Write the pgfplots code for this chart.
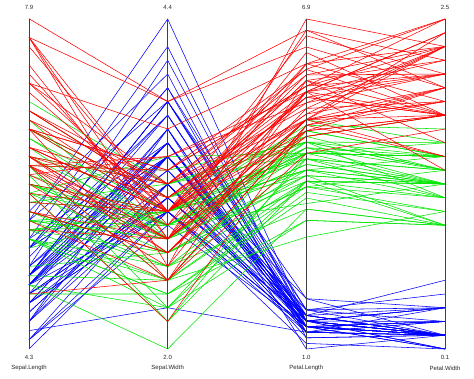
\documentclass[border=0pt]{standalone}
\usepackage{fontspec}
\setmainfont{Liberation Sans}
\usepackage{pgfplots}
\usepackage{pgfplotstable}
\pgfplotsset{compat=1.18}
\definecolor{irisR}{RGB}{255,0,0}
\definecolor{irisG}{RGB}{0,230,0}
\definecolor{irisB}{RGB}{0,0,255}
\tikzset{
  sp0/.style={draw=irisB, line width=0.55pt},
  sp1/.style={draw=irisG, line width=0.55pt},
  sp2/.style={draw=irisR, line width=0.55pt},
  lab/.style={font=\fontsize{6}{7}\selectfont, text=black!85, inner sep=0pt},
}
\pgfplotstableread{
sl sw pl pw sp
5.1 3.5 1.4 0.2 0
4.9 3.0 1.4 0.2 0
4.7 3.2 1.3 0.2 0
4.6 3.1 1.5 0.2 0
5.0 3.6 1.4 0.2 0
5.4 3.9 1.7 0.4 0
4.6 3.4 1.4 0.3 0
5.0 3.4 1.5 0.2 0
4.4 2.9 1.4 0.2 0
4.9 3.1 1.5 0.1 0
5.4 3.7 1.5 0.2 0
4.8 3.4 1.6 0.2 0
4.8 3.0 1.4 0.1 0
4.3 3.0 1.1 0.1 0
5.8 4.0 1.2 0.2 0
5.7 4.4 1.5 0.4 0
5.4 3.9 1.3 0.4 0
5.1 3.5 1.4 0.3 0
5.7 3.8 1.7 0.3 0
5.1 3.8 1.5 0.3 0
5.4 3.4 1.7 0.2 0
5.1 3.7 1.5 0.4 0
4.6 3.6 1.0 0.2 0
5.1 3.3 1.7 0.5 0
4.8 3.4 1.9 0.2 0
5.0 3.0 1.6 0.2 0
5.0 3.4 1.6 0.4 0
5.2 3.5 1.5 0.2 0
5.2 3.4 1.4 0.2 0
4.7 3.2 1.6 0.2 0
4.8 3.1 1.6 0.2 0
5.4 3.4 1.5 0.4 0
5.2 4.1 1.5 0.1 0
5.5 4.2 1.4 0.2 0
4.9 3.1 1.5 0.2 0
5.0 3.2 1.2 0.2 0
5.5 3.5 1.3 0.2 0
4.9 3.6 1.4 0.1 0
4.4 3.0 1.3 0.2 0
5.1 3.4 1.5 0.2 0
5.0 3.5 1.3 0.3 0
4.5 2.3 1.3 0.3 0
4.4 3.2 1.3 0.2 0
5.0 3.5 1.6 0.6 0
5.1 3.8 1.9 0.4 0
4.8 3.0 1.4 0.3 0
5.1 3.8 1.6 0.2 0
4.6 3.2 1.4 0.2 0
5.3 3.7 1.5 0.2 0
5.0 3.3 1.4 0.2 0
7.0 3.2 4.7 1.4 1
6.4 3.2 4.5 1.5 1
6.9 3.1 4.9 1.5 1
5.5 2.3 4.0 1.3 1
6.5 2.8 4.6 1.5 1
5.7 2.8 4.5 1.3 1
6.3 3.3 4.7 1.6 1
4.9 2.4 3.3 1.0 1
6.6 2.9 4.6 1.3 1
5.2 2.7 3.9 1.4 1
5.0 2.0 3.5 1.0 1
5.9 3.0 4.2 1.5 1
6.0 2.2 4.0 1.0 1
6.1 2.9 4.7 1.4 1
5.6 2.9 3.6 1.3 1
6.7 3.1 4.4 1.4 1
5.6 3.0 4.5 1.5 1
5.8 2.7 4.1 1.0 1
6.2 2.2 4.5 1.5 1
5.6 2.5 3.9 1.1 1
5.9 3.2 4.8 1.8 1
6.1 2.8 4.0 1.3 1
6.3 2.5 4.9 1.5 1
6.1 2.8 4.7 1.2 1
6.4 2.9 4.3 1.3 1
6.6 3.0 4.4 1.4 1
6.8 2.8 4.8 1.4 1
6.7 3.0 5.0 1.7 1
6.0 2.9 4.5 1.5 1
5.7 2.6 3.5 1.0 1
5.5 2.4 3.8 1.1 1
5.5 2.4 3.7 1.0 1
5.8 2.7 3.9 1.2 1
6.0 2.7 5.1 1.6 1
5.4 3.0 4.5 1.5 1
6.0 3.4 4.5 1.6 1
6.7 3.1 4.7 1.5 1
6.3 2.3 4.4 1.3 1
5.6 3.0 4.1 1.3 1
5.5 2.5 4.0 1.3 1
5.5 2.6 4.4 1.2 1
6.1 3.0 4.6 1.4 1
5.8 2.6 4.0 1.2 1
5.0 2.3 3.3 1.0 1
5.6 2.7 4.2 1.3 1
5.7 3.0 4.2 1.2 1
5.7 2.9 4.2 1.3 1
6.2 2.9 4.3 1.3 1
5.1 2.5 3.0 1.1 1
5.7 2.8 4.1 1.3 1
6.3 3.3 6.0 2.5 2
5.8 2.7 5.1 1.9 2
7.1 3.0 5.9 2.1 2
6.3 2.9 5.6 1.8 2
6.5 3.0 5.8 2.2 2
7.6 3.0 6.6 2.1 2
4.9 2.5 4.5 1.7 2
7.3 2.9 6.3 1.8 2
6.7 2.5 5.8 1.8 2
7.2 3.6 6.1 2.5 2
6.5 3.2 5.1 2.0 2
6.4 2.7 5.3 1.9 2
6.8 3.0 5.5 2.1 2
5.7 2.5 5.0 2.0 2
5.8 2.8 5.1 2.4 2
6.4 3.2 5.3 2.3 2
6.5 3.0 5.5 1.8 2
7.7 3.8 6.7 2.2 2
7.7 2.6 6.9 2.3 2
6.0 2.2 5.0 1.5 2
6.9 3.2 5.7 2.3 2
5.6 2.8 4.9 2.0 2
7.7 2.8 6.7 2.0 2
6.3 2.7 4.9 1.8 2
6.7 3.3 5.7 2.1 2
7.2 3.2 6.0 1.8 2
6.2 2.8 4.8 1.8 2
6.1 3.0 4.9 1.8 2
6.4 2.8 5.6 2.1 2
7.2 3.0 5.8 1.6 2
7.4 2.8 6.1 1.9 2
7.9 3.8 6.4 2.0 2
6.4 2.8 5.6 2.2 2
6.3 2.8 5.1 1.5 2
6.1 2.6 5.6 1.4 2
7.7 3.0 6.1 2.3 2
6.3 3.4 5.6 2.4 2
6.4 3.1 5.5 1.8 2
6.0 3.0 4.8 1.8 2
6.9 3.1 5.4 2.1 2
6.7 3.1 5.6 2.4 2
6.9 3.1 5.1 2.3 2
5.8 2.7 5.1 1.9 2
6.8 3.2 5.9 2.3 2
6.7 3.3 5.7 2.5 2
6.7 3.0 5.2 2.3 2
6.3 2.5 5.0 1.9 2
6.5 3.0 5.2 2.0 2
6.2 3.4 5.4 2.3 2
5.9 3.0 5.1 1.8 2
}\iris
\begin{document}
\begin{tikzpicture}
\begin{axis}[
  scale only axis, width=416pt, height=330pt,
  xmin=0, xmax=3, ymin=0, ymax=1,
  hide axis, clip=false,
]
\pgfplotsforeachungrouped \i in {0,...,149}{%
  \pgfplotstablegetelem{\i}{sl}\of\iris
  \pgfmathsetmacro\ya{(\pgfplotsretval-4.3)/3.6}%
  \pgfplotstablegetelem{\i}{sw}\of\iris
  \pgfmathsetmacro\yb{(\pgfplotsretval-2.0)/2.4}%
  \pgfplotstablegetelem{\i}{pl}\of\iris
  \pgfmathsetmacro\yc{(\pgfplotsretval-1.0)/5.9}%
  \pgfplotstablegetelem{\i}{pw}\of\iris
  \pgfmathsetmacro\yd{(\pgfplotsretval-0.1)/2.4}%
  \pgfplotstablegetelem{\i}{sp}\of\iris
  \let\spc\pgfplotsretval
  \edef\cmd{\noexpand\addplot[sp\spc] coordinates {(0,\ya)(1,\yb)(2,\yc)(3,\yd)};}%
  \cmd
}
\draw[black!75, line width=0.8pt] (axis cs:0,0) -- (axis cs:0,1);
\draw[black!75, line width=0.8pt] (axis cs:1,0) -- (axis cs:1,1);
\draw[black!75, line width=0.8pt] (axis cs:2,0) -- (axis cs:2,1);
\draw[black!75, line width=0.8pt] (axis cs:3,0) -- (axis cs:3,1);
\node[lab] at ([yshift=12pt]axis cs:0,1) {7.9};
\node[lab] at ([yshift=12pt]axis cs:1,1) {4.4};
\node[lab] at ([yshift=12pt]axis cs:2,1) {6.9};
\node[lab] at ([yshift=12pt]axis cs:3,1) {2.5};
\node[lab] at ([yshift=-8pt]axis cs:0,0) {4.3};
\node[lab] at ([yshift=-8pt]axis cs:1,0) {2.0};
\node[lab] at ([yshift=-8pt]axis cs:2,0) {1.0};
\node[lab] at ([yshift=-8pt]axis cs:3,0) {0.1};
\node[lab] at ([yshift=-19pt]axis cs:0,0) {Sepal.Length};
\node[lab] at ([yshift=-19pt]axis cs:1,0) {Sepal.Width};
\node[lab] at ([yshift=-19pt]axis cs:2,0) {Petal.Length};
\node[lab] at ([yshift=-19pt]axis cs:3,0) {Petal.Width};
\coordinate (sw) at (axis cs:0,0);
\coordinate (ne) at (axis cs:3,1);
\end{axis}
\pgfresetboundingbox
\path (sw) ++(-29pt,-30pt) (ne) ++(29pt,19pt);
\end{tikzpicture}
\end{document}
